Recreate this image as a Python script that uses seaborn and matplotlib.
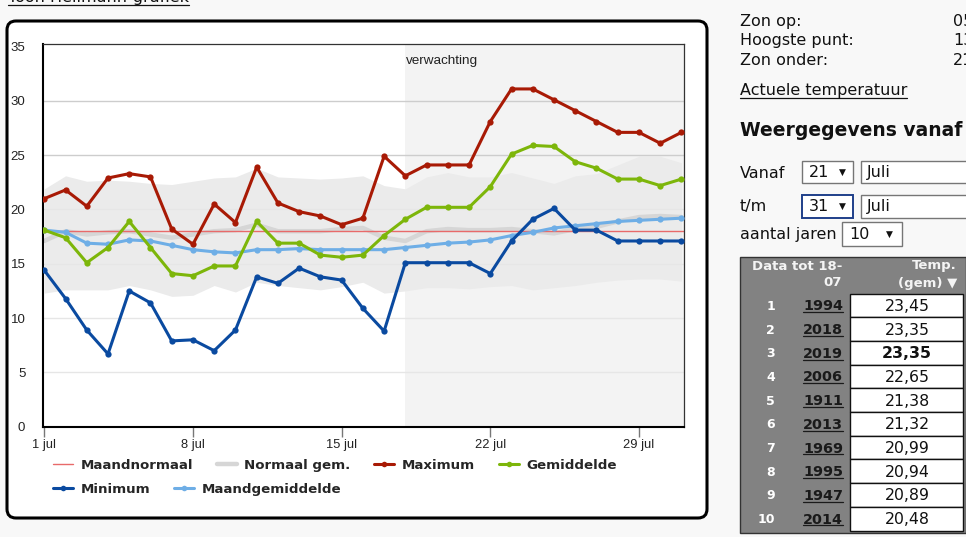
import matplotlib
matplotlib.use('Agg')
import matplotlib.pyplot as plt
import seaborn as sns
import pandas as pd
from matplotlib.lines import Line2D
from matplotlib.patches import FancyBboxPatch, Rectangle
from matplotlib.transforms import IdentityTransform

# ---------------- data ----------------
days = list(range(1, 32))
maximum = [21.0, 21.8, 20.3, 22.9, 23.3, 23.0, 18.2, 16.8, 20.5, 18.8, 23.9, 20.6, 19.8, 19.4, 18.6, 19.2,
           24.9, 23.1, 24.1, 24.1, 24.1, 28.1, 31.1, 31.1, 30.1, 29.1, 28.1, 27.1, 27.1, 26.1, 27.1]
gemiddelde = [18.1, 17.4, 15.1, 16.5, 18.9, 16.5, 14.1, 13.9, 14.8, 14.8, 18.9, 16.9, 16.9, 15.8, 15.6, 15.8,
              17.6, 19.1, 20.2, 20.2, 20.2, 22.1, 25.1, 25.9, 25.8, 24.4, 23.8, 22.8, 22.8, 22.2, 22.8]
minimum = [14.4, 11.8, 8.9, 6.7, 12.5, 11.4, 7.9, 8.0, 7.0, 8.9, 13.8, 13.2, 14.6, 13.8, 13.5, 10.9,
           8.8, 15.1, 15.1, 15.1, 15.1, 14.1, 17.1, 19.1, 20.1, 18.1, 18.1, 17.1, 17.1, 17.1, 17.1]
maandgemiddelde = [18.1, 17.9, 16.9, 16.8, 17.2, 17.1, 16.7, 16.3, 16.1, 16.0, 16.3, 16.3, 16.4, 16.3, 16.3, 16.3,
                   16.3, 16.5, 16.7, 16.9, 17.0, 17.2, 17.6, 17.9, 18.3, 18.5, 18.7, 18.9, 19.0, 19.1, 19.2]
normaal_gem = [17.1, 18.0, 17.7, 17.9, 18.0, 17.7, 17.4, 17.7, 18.0, 18.1, 18.6, 18.0, 18.0, 18.0, 18.2, 18.3,
               17.4, 17.1, 18.0, 18.2, 18.1, 18.1, 18.2, 18.0, 17.8, 18.2, 18.4, 18.9, 19.3, 19.4, 19.3]
normaal_max = [21.9, 23.1, 22.6, 22.7, 22.6, 22.4, 22.3, 22.6, 22.9, 23.0, 23.8, 23.0, 22.9, 22.8, 22.9, 23.1,
               22.2, 21.9, 23.0, 23.4, 23.0, 23.0, 23.4, 22.9, 22.4, 23.1, 23.3, 24.1, 24.9, 24.9, 24.3]
normaal_min = [12.3, 12.6, 12.6, 12.6, 13.0, 12.6, 12.0, 12.1, 13.0, 12.4, 13.3, 13.0, 12.8, 12.6, 12.9, 13.3,
               12.3, 12.5, 12.8, 12.8, 12.7, 12.9, 13.0, 12.6, 12.8, 13.0, 13.3, 13.5, 13.6, 13.6, 13.4]
maandnormaal = 18.0
forecast_start = 18
x_ticks = [1, 8, 15, 22, 29]
x_ticklabels = ['1 jul', '8 jul', '15 jul', '22 jul', '29 jul']
y_ticks = [0, 5, 10, 15, 20, 25, 30, 35]

zon_labels = ['Zon op:', 'Hoogste punt:', 'Zon onder:']
zon_values = ['05', '13', '21']
table_ranks = ['1', '2', '3', '4', '5', '6', '7', '8', '9', '10']
table_years = ['1994', '2018', '2019', '2006', '1911', '2013', '1969', '1995', '1947', '2014']
table_temps = ['23,45', '23,35', '23,35', '22,65', '21,38', '21,32', '20,99', '20,94', '20,89', '20,48']
bold_row = 2

df = pd.DataFrame({'dag': days, 'Maximum': maximum, 'Gemiddelde': gemiddelde, 'Minimum': minimum,
                   'Maandgemiddelde': maandgemiddelde, 'Normaal': normaal_gem,
                   'nmax': normaal_max, 'nmin': normaal_min})

# ---------------- style ----------------
sns.set_style('white')
plt.rcParams['font.family'] = ['DejaVu Sans']
W, H = 966, 537
C_MAX = '#a81a05'
C_GEM = '#7db60a'
C_MIN = '#0a4aa0'
C_MGEM = '#6eaee6'
C_NORM = '#e86a6a'
C_NGEM = '#d6d6d6'
C_BAND = '#ebebeb'

fig = plt.figure(figsize=(W / 100, H / 100), dpi=100, facecolor='#f8f8f8')
ID = IdentityTransform()


def T(x, y, s, **kw):
    return fig.text(x / W, 1 - y / H, s, **kw)


# chart container
box = FancyBboxPatch((7, H - 518), 700, 497, boxstyle='round,pad=0,rounding_size=9',
                     facecolor='white', edgecolor='black', linewidth=2.2, transform=ID, zorder=-1)
fig.add_artist(box)

ax = fig.add_axes([42.7 / W, 1 - 426.7 / H, (684 - 42.7) / W, (426.7 - 44.3) / H])
ax.set_facecolor('white')
ax.set_xlim(0.925, 31.12)
ax.set_ylim(0, 35.21)

ax.axvspan(forecast_start, 31.12, color='#f3f3f3', zorder=0, lw=0)
ax.fill_between(df['dag'], df['nmin'], df['nmax'], color=C_BAND, lw=0, zorder=1)
for yt in y_ticks[1:-1]:
    ax.axhline(yt, color='#cdcdcd' if yt >= 25 else '#e6e6e6', lw=1, zorder=1.5)
sns.lineplot(data=df, x='dag', y='Normaal', ax=ax, color=C_NGEM, lw=3.2, zorder=2, legend=False)
ax.axhline(maandnormaal, color=C_NORM, lw=1, zorder=2.5)

mk = dict(marker='o', markersize=4.5, markeredgewidth=0, lw=2.2, legend=False)
sns.lineplot(data=df, x='dag', y='Maandgemiddelde', ax=ax, color=C_MGEM, zorder=3, **mk)
sns.lineplot(data=df, x='dag', y='Minimum', ax=ax, color=C_MIN, zorder=4, **mk)
sns.lineplot(data=df, x='dag', y='Gemiddelde', ax=ax, color=C_GEM, zorder=5, **mk)
sns.lineplot(data=df, x='dag', y='Maximum', ax=ax, color=C_MAX, zorder=6, **mk)

ax.text(forecast_start + 0.03, 33.7, 'verwachting', fontsize=9.7, family='Liberation Sans',
        color='#222222', va='center', ha='left', zorder=7)

ax.set_xlabel('')
ax.set_ylabel('')
ax.set_xticks(x_ticks)
ax.set_xticklabels(x_ticklabels, family='Liberation Sans', fontsize=9.3, color='#222222')
ax.set_yticks(y_ticks)
ax.set_yticklabels([str(v) for v in y_ticks], family='Liberation Sans', fontsize=9.5, color='#222222')
ax.tick_params(axis='x', length=7.5, width=1, color='#777777', pad=1.5, bottom=True)
ax.tick_params(axis='y', length=0, pad=12.5, left=True)
for side in ['left', 'bottom']:
    ax.spines[side].set_color('black')
    ax.spines[side].set_linewidth(1.5)
for side in ['top', 'right']:
    ax.spines[side].set_color('#333333')
    ax.spines[side].set_linewidth(0.9)
ax.grid(False)

# legend
lp = dict(family='DejaVu Sans', weight='bold', size=9.6)
h1 = [Line2D([], [], color=C_NORM, lw=1),
      Line2D([], [], color=C_NGEM, lw=3.2),
      Line2D([], [], color=C_MAX, lw=2.2, marker='o', ms=4, mew=0),
      Line2D([], [], color=C_GEM, lw=2.2, marker='o', ms=4, mew=0)]
h2 = [Line2D([], [], color=C_MIN, lw=2.2, marker='o', ms=4, mew=0),
      Line2D([], [], color=C_MGEM, lw=2.2, marker='o', ms=4, mew=0)]
common = dict(loc='center left', frameon=False, prop=lp, handlelength=1.5, handletextpad=0.55,
              columnspacing=1.8, borderpad=0, borderaxespad=0)
fig.legend(h1, ['Maandnormaal', 'Normaal gem.', 'Maximum', 'Gemiddelde'], ncol=4,
           bbox_to_anchor=(53 / W, 1 - 465.5 / H), **common)
fig.legend(h2, ['Minimum', 'Maandgemiddelde'], ncol=2,
           bbox_to_anchor=(53 / W, 1 - 489.5 / H), **common)

# ---------------- right panel ----------------
under = []
top_t = T(8, 2, 'Toon Hellmann-grafiek', fontsize=11.5, va='baseline', color='#111111')
under.append((top_t, 4.5))
for i, (lab, val) in enumerate(zip(zon_labels, zon_values)):
    yy = 21.7 + 19.2 * i
    T(740, yy, lab, fontsize=11.5, va='center', color='#111111')
    T(953, yy, val, fontsize=11.5, va='center', color='#111111')
act = T(740, 95, 'Actuele temperatuur', fontsize=11.5, va='baseline', color='#111111')
under.append((act, 97.5))
T(740, 130, 'Weergegevens vanaf', fontsize=13.5, weight='bold', va='center', color='#111111')


def rect(x0, y0, x1, y1, fc='white', ec='#767676', lw=1.0, z=1):
    r = Rectangle((x0, H - y1), x1 - x0, y1 - y0, facecolor=fc, edgecolor=ec, linewidth=lw,
                  transform=ID, zorder=z)
    fig.add_artist(r)


T(740, 173, 'Vanaf', fontsize=11.5, va='center', color='#111111')
rect(802, 161, 853, 183)
T(809, 172.5, '21', fontsize=11.5, va='center', color='#111111')
T(842, 172.5, '▼', fontsize=6.5, va='center', ha='center', color='#111111')
rect(861, 161, 975, 183)
T(867, 172.5, 'Juli', fontsize=11.5, va='center', color='#111111')

T(740, 207, 't/m', fontsize=11.5, va='center', color='#111111')
rect(802, 195, 853, 218, ec='#1f3f8a', lw=1.4)
T(809, 206.5, '31', fontsize=11.5, va='center', color='#111111')
T(842, 206.5, '▼', fontsize=6.5, va='center', ha='center', color='#111111')
rect(861, 195, 975, 218)
T(867, 206.5, 'Juli', fontsize=11.5, va='center', color='#111111')

T(740, 235, 'aantal jaren', fontsize=11.5, va='center', color='#111111')
rect(842, 222, 902, 246)
T(849, 234.5, '10', fontsize=11.5, va='center', color='#111111')
T(889, 234.5, '▼', fontsize=6.5, va='center', ha='center', color='#111111')

# table
rect(740, 257, 966, 533, fc='#828282', ec='#333333', lw=1.0)
hdr = dict(fontsize=9.5, weight='bold', color='#f4f4f4', va='center')
T(842, 266, 'Data tot 18-', ha='right', **hdr)
T(842, 283, '07', ha='right', **hdr)
T(957, 266, 'Temp.', ha='right', **hdr)
T(957, 283, '(gem) ▼', ha='right', **hdr)
row_h = 23.7
for i, (rk, yr, tp) in enumerate(zip(table_ranks, table_years, table_temps)):
    top = 293.5 + row_h * i
    cy = top + row_h / 2
    rect(850, top, 963, top + row_h, fc='white', ec='#111111', lw=1.0, z=2)
    T(775, cy + 4.5, rk, fontsize=9, weight='bold', color='white', ha='right', va='baseline')
    yt = T(843, cy + 5, yr, fontsize=10.4, weight='bold', color='#1a1a1a', ha='right', va='baseline')
    under.append((yt, cy + 6.8))
    T(907, cy + 5.5, tp, fontsize=11.3, weight='bold' if i == bold_row else 'normal',
      color='#111111', ha='center', va='baseline', zorder=3)

fig.canvas.draw()
rnd = fig.canvas.get_renderer()
for t, yy in under:
    bb = t.get_window_extent(rnd)
    fig.add_artist(Line2D([bb.x0, bb.x1], [H - yy, H - yy], color=t.get_color(), lw=0.9,
                          transform=ID, zorder=4))

fig.savefig('out.png', dpi=100, facecolor=fig.get_facecolor())
